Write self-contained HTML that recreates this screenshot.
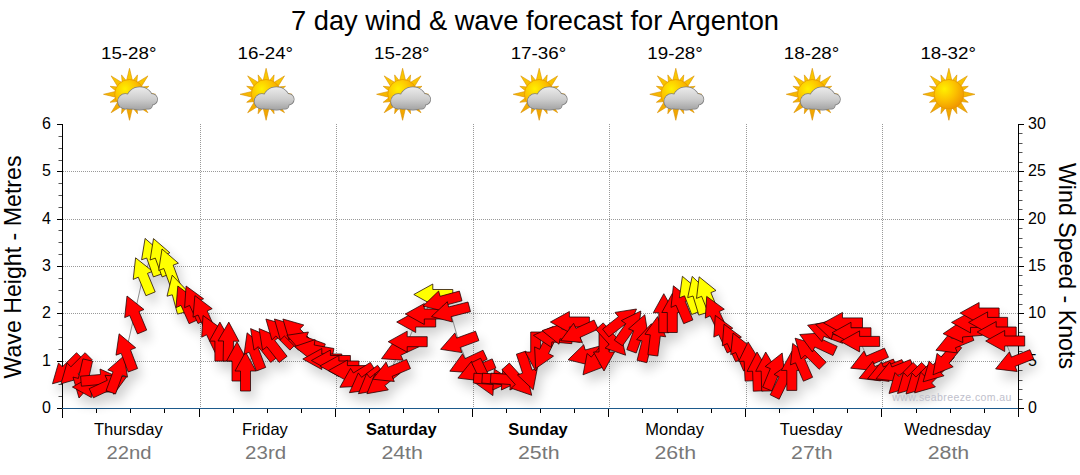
<!DOCTYPE html><html><head><meta charset="utf-8"><style>html,body{margin:0;padding:0;background:#fff;width:1080px;height:475px;overflow:hidden}svg{display:block}text{font-family:"Liberation Sans",Arial,sans-serif}</style></head><body>
<svg width="1080" height="475" viewBox="0 0 1080 475">
<defs>
<radialGradient id="sunG" cx="0.35" cy="0.32" r="0.75"><stop offset="0" stop-color="#fff000"/><stop offset="0.5" stop-color="#fcc200"/><stop offset="1" stop-color="#ef9200"/></radialGradient>
<linearGradient id="rayG" x1="0" y1="0" x2="0" y2="1"><stop offset="0" stop-color="#fdd000"/><stop offset="1" stop-color="#f0a000"/></linearGradient>
<linearGradient id="cloudG" gradientUnits="userSpaceOnUse" x1="0" y1="87" x2="0" y2="109"><stop offset="0" stop-color="#ebebeb"/><stop offset="0.55" stop-color="#cdcdcd"/><stop offset="1" stop-color="#a6a6a6"/></linearGradient>
<filter id="sh" x="-20%" y="-20%" width="150%" height="160%"><feGaussianBlur in="SourceAlpha" stdDeviation="6"/><feOffset dx="4" dy="8" result="b"/><feComponentTransfer><feFuncA type="linear" slope="0.22"/></feComponentTransfer><feMerge><feMergeNode/><feMergeNode in="SourceGraphic"/></feMerge></filter>
<filter id="shonly" x="-10%" y="-20%" width="120%" height="160%"><feGaussianBlur in="SourceAlpha" stdDeviation="6"/><feOffset dx="4" dy="8"/><feComponentTransfer><feFuncA type="linear" slope="0.19"/></feComponentTransfer></filter>
</defs>
<text x="291" y="29.6" font-size="28.5" textLength="488" lengthAdjust="spacingAndGlyphs" fill="#000">7 day wind &amp; wave forecast for Argenton</text>
<text x="101.0" y="59.2" font-size="16.8" textLength="55.5" lengthAdjust="spacingAndGlyphs" fill="#000">15-28°</text>
<path d="M129.5,68.3L133.1,83.3L125.9,83.3ZM137.5,74.9L136.5,85.3L130.9,83.0ZM147.9,75.9L139.8,89.1L134.7,84.0ZM148.9,86.3L140.8,92.9L138.5,87.3ZM155.5,94.3L140.5,97.9L140.5,90.7ZM148.9,102.3L138.5,101.3L140.8,95.7ZM147.9,112.7L134.7,104.6L139.8,99.5ZM137.5,113.7L130.9,105.6L136.5,103.3ZM129.5,120.3L125.9,105.3L133.1,105.3ZM121.5,113.7L122.5,103.3L128.1,105.6ZM111.1,112.7L119.2,99.5L124.3,104.6ZM110.1,102.3L118.2,95.7L120.5,101.3ZM103.5,94.3L118.5,90.7L118.5,97.9ZM110.1,86.3L120.5,87.3L118.2,92.9ZM111.1,75.9L124.3,84.0L119.2,89.1ZM121.5,74.9L128.1,83.0L122.5,85.3Z" fill="url(#rayG)" stroke="#d88e00" stroke-width="0.6"/><circle cx="129.5" cy="94.3" r="14.8" fill="url(#sunG)" stroke="#e39300" stroke-width="0.7"/><g fill="#7c7c7c" stroke="#7c7c7c" stroke-width="1.5"><circle cx="125.3" cy="101.4" r="7.3"/><ellipse cx="139.8" cy="98.5" rx="12.6" ry="11.2"/><circle cx="151.8" cy="99.3" r="5.4"/><rect x="125.5" y="98.3" width="26.5" height="10.5" rx="3.5"/></g><g fill="url(#cloudG)"><circle cx="125.3" cy="101.4" r="7.3"/><ellipse cx="139.8" cy="98.5" rx="12.6" ry="11.2"/><circle cx="151.8" cy="99.3" r="5.4"/><rect x="125.5" y="98.3" width="26.5" height="10.5" rx="3.5"/></g>
<text x="237.6" y="59.2" font-size="16.8" textLength="55.5" lengthAdjust="spacingAndGlyphs" fill="#000">16-24°</text>
<path d="M266.1,68.3L269.7,83.3L262.5,83.3ZM274.1,74.9L273.1,85.3L267.5,83.0ZM284.5,75.9L276.4,89.1L271.3,84.0ZM285.5,86.3L277.4,92.9L275.1,87.3ZM292.1,94.3L277.1,97.9L277.1,90.7ZM285.5,102.3L275.1,101.3L277.4,95.7ZM284.5,112.7L271.3,104.6L276.4,99.5ZM274.1,113.7L267.5,105.6L273.1,103.3ZM266.1,120.3L262.5,105.3L269.7,105.3ZM258.1,113.7L259.1,103.3L264.7,105.6ZM247.7,112.7L255.8,99.5L260.9,104.6ZM246.7,102.3L254.8,95.7L257.1,101.3ZM240.1,94.3L255.1,90.7L255.1,97.9ZM246.7,86.3L257.1,87.3L254.8,92.9ZM247.7,75.9L260.9,84.0L255.8,89.1ZM258.1,74.9L264.7,83.0L259.1,85.3Z" fill="url(#rayG)" stroke="#d88e00" stroke-width="0.6"/><circle cx="266.1" cy="94.3" r="14.8" fill="url(#sunG)" stroke="#e39300" stroke-width="0.7"/><g fill="#7c7c7c" stroke="#7c7c7c" stroke-width="1.5"><circle cx="261.9" cy="101.4" r="7.3"/><ellipse cx="276.4" cy="98.5" rx="12.6" ry="11.2"/><circle cx="288.4" cy="99.3" r="5.4"/><rect x="262.1" y="98.3" width="26.5" height="10.5" rx="3.5"/></g><g fill="url(#cloudG)"><circle cx="261.9" cy="101.4" r="7.3"/><ellipse cx="276.4" cy="98.5" rx="12.6" ry="11.2"/><circle cx="288.4" cy="99.3" r="5.4"/><rect x="262.1" y="98.3" width="26.5" height="10.5" rx="3.5"/></g>
<text x="374.1" y="59.2" font-size="16.8" textLength="55.5" lengthAdjust="spacingAndGlyphs" fill="#000">15-28°</text>
<path d="M402.6,68.3L406.2,83.3L399.0,83.3ZM410.6,74.9L409.6,85.3L404.0,83.0ZM421.0,75.9L412.9,89.1L407.8,84.0ZM422.0,86.3L413.9,92.9L411.6,87.3ZM428.6,94.3L413.6,97.9L413.6,90.7ZM422.0,102.3L411.6,101.3L413.9,95.7ZM421.0,112.7L407.8,104.6L412.9,99.5ZM410.6,113.7L404.0,105.6L409.6,103.3ZM402.6,120.3L399.0,105.3L406.2,105.3ZM394.6,113.7L395.6,103.3L401.2,105.6ZM384.2,112.7L392.3,99.5L397.4,104.6ZM383.2,102.3L391.3,95.7L393.6,101.3ZM376.6,94.3L391.6,90.7L391.6,97.9ZM383.2,86.3L393.6,87.3L391.3,92.9ZM384.2,75.9L397.4,84.0L392.3,89.1ZM394.6,74.9L401.2,83.0L395.6,85.3Z" fill="url(#rayG)" stroke="#d88e00" stroke-width="0.6"/><circle cx="402.6" cy="94.3" r="14.8" fill="url(#sunG)" stroke="#e39300" stroke-width="0.7"/><g fill="#7c7c7c" stroke="#7c7c7c" stroke-width="1.5"><circle cx="398.4" cy="101.4" r="7.3"/><ellipse cx="412.9" cy="98.5" rx="12.6" ry="11.2"/><circle cx="424.9" cy="99.3" r="5.4"/><rect x="398.6" y="98.3" width="26.5" height="10.5" rx="3.5"/></g><g fill="url(#cloudG)"><circle cx="398.4" cy="101.4" r="7.3"/><ellipse cx="412.9" cy="98.5" rx="12.6" ry="11.2"/><circle cx="424.9" cy="99.3" r="5.4"/><rect x="398.6" y="98.3" width="26.5" height="10.5" rx="3.5"/></g>
<text x="510.7" y="59.2" font-size="16.8" textLength="55.5" lengthAdjust="spacingAndGlyphs" fill="#000">17-36°</text>
<path d="M539.2,68.3L542.8,83.3L535.6,83.3ZM547.2,74.9L546.2,85.3L540.6,83.0ZM557.6,75.9L549.5,89.1L544.4,84.0ZM558.6,86.3L550.5,92.9L548.2,87.3ZM565.2,94.3L550.2,97.9L550.2,90.7ZM558.6,102.3L548.2,101.3L550.5,95.7ZM557.6,112.7L544.4,104.6L549.5,99.5ZM547.2,113.7L540.6,105.6L546.2,103.3ZM539.2,120.3L535.6,105.3L542.8,105.3ZM531.2,113.7L532.2,103.3L537.8,105.6ZM520.8,112.7L528.9,99.5L534.0,104.6ZM519.8,102.3L527.9,95.7L530.2,101.3ZM513.2,94.3L528.2,90.7L528.2,97.9ZM519.8,86.3L530.2,87.3L527.9,92.9ZM520.8,75.9L534.0,84.0L528.9,89.1ZM531.2,74.9L537.8,83.0L532.2,85.3Z" fill="url(#rayG)" stroke="#d88e00" stroke-width="0.6"/><circle cx="539.2" cy="94.3" r="14.8" fill="url(#sunG)" stroke="#e39300" stroke-width="0.7"/><g fill="#7c7c7c" stroke="#7c7c7c" stroke-width="1.5"><circle cx="535.0" cy="101.4" r="7.3"/><ellipse cx="549.5" cy="98.5" rx="12.6" ry="11.2"/><circle cx="561.5" cy="99.3" r="5.4"/><rect x="535.2" y="98.3" width="26.5" height="10.5" rx="3.5"/></g><g fill="url(#cloudG)"><circle cx="535.0" cy="101.4" r="7.3"/><ellipse cx="549.5" cy="98.5" rx="12.6" ry="11.2"/><circle cx="561.5" cy="99.3" r="5.4"/><rect x="535.2" y="98.3" width="26.5" height="10.5" rx="3.5"/></g>
<text x="647.3" y="59.2" font-size="16.8" textLength="55.5" lengthAdjust="spacingAndGlyphs" fill="#000">19-28°</text>
<path d="M675.8,68.3L679.4,83.3L672.2,83.3ZM683.8,74.9L682.8,85.3L677.2,83.0ZM694.2,75.9L686.1,89.1L681.0,84.0ZM695.2,86.3L687.1,92.9L684.8,87.3ZM701.8,94.3L686.8,97.9L686.8,90.7ZM695.2,102.3L684.8,101.3L687.1,95.7ZM694.2,112.7L681.0,104.6L686.1,99.5ZM683.8,113.7L677.2,105.6L682.8,103.3ZM675.8,120.3L672.2,105.3L679.4,105.3ZM667.8,113.7L668.8,103.3L674.4,105.6ZM657.4,112.7L665.5,99.5L670.6,104.6ZM656.4,102.3L664.5,95.7L666.8,101.3ZM649.8,94.3L664.8,90.7L664.8,97.9ZM656.4,86.3L666.8,87.3L664.5,92.9ZM657.4,75.9L670.6,84.0L665.5,89.1ZM667.8,74.9L674.4,83.0L668.8,85.3Z" fill="url(#rayG)" stroke="#d88e00" stroke-width="0.6"/><circle cx="675.8" cy="94.3" r="14.8" fill="url(#sunG)" stroke="#e39300" stroke-width="0.7"/><g fill="#7c7c7c" stroke="#7c7c7c" stroke-width="1.5"><circle cx="671.6" cy="101.4" r="7.3"/><ellipse cx="686.1" cy="98.5" rx="12.6" ry="11.2"/><circle cx="698.1" cy="99.3" r="5.4"/><rect x="671.8" y="98.3" width="26.5" height="10.5" rx="3.5"/></g><g fill="url(#cloudG)"><circle cx="671.6" cy="101.4" r="7.3"/><ellipse cx="686.1" cy="98.5" rx="12.6" ry="11.2"/><circle cx="698.1" cy="99.3" r="5.4"/><rect x="671.8" y="98.3" width="26.5" height="10.5" rx="3.5"/></g>
<text x="783.8" y="59.2" font-size="16.8" textLength="55.5" lengthAdjust="spacingAndGlyphs" fill="#000">18-28°</text>
<path d="M812.3,68.3L815.9,83.3L808.7,83.3ZM820.3,74.9L819.3,85.3L813.7,83.0ZM830.7,75.9L822.6,89.1L817.5,84.0ZM831.7,86.3L823.6,92.9L821.3,87.3ZM838.3,94.3L823.3,97.9L823.3,90.7ZM831.7,102.3L821.3,101.3L823.6,95.7ZM830.7,112.7L817.5,104.6L822.6,99.5ZM820.3,113.7L813.7,105.6L819.3,103.3ZM812.3,120.3L808.7,105.3L815.9,105.3ZM804.3,113.7L805.3,103.3L810.9,105.6ZM793.9,112.7L802.0,99.5L807.1,104.6ZM792.9,102.3L801.0,95.7L803.3,101.3ZM786.3,94.3L801.3,90.7L801.3,97.9ZM792.9,86.3L803.3,87.3L801.0,92.9ZM793.9,75.9L807.1,84.0L802.0,89.1ZM804.3,74.9L810.9,83.0L805.3,85.3Z" fill="url(#rayG)" stroke="#d88e00" stroke-width="0.6"/><circle cx="812.3" cy="94.3" r="14.8" fill="url(#sunG)" stroke="#e39300" stroke-width="0.7"/><g fill="#7c7c7c" stroke="#7c7c7c" stroke-width="1.5"><circle cx="808.1" cy="101.4" r="7.3"/><ellipse cx="822.6" cy="98.5" rx="12.6" ry="11.2"/><circle cx="834.6" cy="99.3" r="5.4"/><rect x="808.3" y="98.3" width="26.5" height="10.5" rx="3.5"/></g><g fill="url(#cloudG)"><circle cx="808.1" cy="101.4" r="7.3"/><ellipse cx="822.6" cy="98.5" rx="12.6" ry="11.2"/><circle cx="834.6" cy="99.3" r="5.4"/><rect x="808.3" y="98.3" width="26.5" height="10.5" rx="3.5"/></g>
<text x="920.4" y="59.2" font-size="16.8" textLength="55.5" lengthAdjust="spacingAndGlyphs" fill="#000">18-32°</text>
<path d="M948.9,68.3L952.5,83.3L945.3,83.3ZM956.9,74.9L955.9,85.3L950.3,83.0ZM967.3,75.9L959.2,89.1L954.1,84.0ZM968.3,86.3L960.2,92.9L957.9,87.3ZM974.9,94.3L959.9,97.9L959.9,90.7ZM968.3,102.3L957.9,101.3L960.2,95.7ZM967.3,112.7L954.1,104.6L959.2,99.5ZM956.9,113.7L950.3,105.6L955.9,103.3ZM948.9,120.3L945.3,105.3L952.5,105.3ZM940.9,113.7L941.9,103.3L947.5,105.6ZM930.5,112.7L938.6,99.5L943.7,104.6ZM929.5,102.3L937.6,95.7L939.9,101.3ZM922.9,94.3L937.9,90.7L937.9,97.9ZM929.5,86.3L939.9,87.3L937.6,92.9ZM930.5,75.9L943.7,84.0L938.6,89.1ZM940.9,74.9L947.5,83.0L941.9,85.3Z" fill="url(#rayG)" stroke="#d88e00" stroke-width="0.6"/><circle cx="948.9" cy="94.3" r="14.8" fill="url(#sunG)" stroke="#e39300" stroke-width="0.7"/>
<path d="M63,361.5H1018M63,313.5H1018M63,266.5H1018M63,219.5H1018M63,171.5H1018M200.5,124V408M336.5,124V408M473.5,124V408M609.5,124V408M746.5,124V408M882.5,124V408" stroke="#999" stroke-width="1" stroke-dasharray="1 1" fill="none"/>
<path d="M62.5,124V418M1018.5,124V408.5M57.0,408.5H62.5M57.0,361.5H62.5M57.0,313.5H62.5M57.0,266.5H62.5M57.0,219.5H62.5M57.0,171.5H62.5M57.0,124.5H62.5M1018.5,408.5H1024.0M1018.5,361.5H1024.0M1018.5,313.5H1024.0M1018.5,266.5H1024.0M1018.5,219.5H1024.0M1018.5,171.5H1024.0M1018.5,124.5H1024.0M62.5,408V417M96.5,408V413M130.5,408V413M164.5,408V413M199.5,408V417M233.5,408V413M267.5,408V413M301.5,408V413M335.5,408V417M369.5,408V413M403.5,408V413M438.5,408V413M472.5,408V417M506.5,408V413M540.5,408V413M574.5,408V413M608.5,408V417M642.5,408V413M677.5,408V413M711.5,408V413M745.5,408V417M779.5,408V413M813.5,408V413M847.5,408V413M881.5,408V417M916.5,408V413M950.5,408V413M984.5,408V413M1018.5,408V417" stroke="#000" stroke-width="1" fill="none"/>
<path d="M58.5,396.5H62M58.5,384.5H62M58.5,372.5H62M58.5,349.5H62M58.5,337.5H62M58.5,325.5H62M58.5,302.5H62M58.5,290.5H62M58.5,278.5H62M58.5,254.5H62M58.5,242.5H62M58.5,230.5H62M58.5,207.5H62M58.5,195.5H62M58.5,183.5H62M58.5,160.5H62M58.5,148.5H62M58.5,136.5H62M1019,399.5H1022.5M1019,389.5H1022.5M1019,380.5H1022.5M1019,370.5H1022.5M1019,351.5H1022.5M1019,342.5H1022.5M1019,332.5H1022.5M1019,323.5H1022.5M1019,304.5H1022.5M1019,294.5H1022.5M1019,285.5H1022.5M1019,275.5H1022.5M1019,257.5H1022.5M1019,247.5H1022.5M1019,238.5H1022.5M1019,228.5H1022.5M1019,209.5H1022.5M1019,200.5H1022.5M1019,190.5H1022.5M1019,181.5H1022.5M1019,162.5H1022.5M1019,152.5H1022.5M1019,143.5H1022.5M1019,133.5H1022.5" stroke="#555" stroke-width="1" fill="none"/>
<path d="M62,408.5H1018" stroke="#1d5a8c" stroke-width="1"/>
<text x="51" y="413.0" font-size="16" text-anchor="end" fill="#000">0</text>
<text x="51" y="365.7" font-size="16" text-anchor="end" fill="#000">1</text>
<text x="51" y="318.3" font-size="16" text-anchor="end" fill="#000">2</text>
<text x="51" y="271.0" font-size="16" text-anchor="end" fill="#000">3</text>
<text x="51" y="223.7" font-size="16" text-anchor="end" fill="#000">4</text>
<text x="51" y="176.3" font-size="16" text-anchor="end" fill="#000">5</text>
<text x="51" y="129.0" font-size="16" text-anchor="end" fill="#000">6</text>
<text x="1028" y="413.0" font-size="16" fill="#000">0</text>
<text x="1028" y="365.7" font-size="16" fill="#000">5</text>
<text x="1028" y="318.3" font-size="16" fill="#000">10</text>
<text x="1028" y="271.0" font-size="16" fill="#000">15</text>
<text x="1028" y="223.7" font-size="16" fill="#000">20</text>
<text x="1028" y="176.3" font-size="16" fill="#000">25</text>
<text x="1028" y="129.0" font-size="16" fill="#000">30</text>
<text transform="translate(20.5,378.5) rotate(-90)" font-size="24" textLength="223" lengthAdjust="spacingAndGlyphs" fill="#000">Wave Height - Metres</text>
<text transform="translate(1059,163) rotate(90)" font-size="24" textLength="206" lengthAdjust="spacingAndGlyphs" fill="#000">Wind Speed - Knots</text>
<g filter="url(#shonly)"><polygon points="52.5,383.8 73.3,377.8 69.5,373.9 83.6,359.7 76.5,352.7 62.4,366.8 58.5,362.9" fill="#ff0000" stroke="#1a0000" stroke-width="0.75" stroke-linejoin="miter"/><polygon points="61.0,383.8 81.9,377.8 78.0,373.9 92.1,359.7 85.1,352.7 70.9,366.8 67.0,362.9" fill="#ff0000" stroke="#1a0000" stroke-width="0.75" stroke-linejoin="miter"/><polygon points="79.0,398.0 93.5,381.8 88.1,380.6 92.6,361.1 82.9,358.9 78.4,378.4 73.0,377.1" fill="#ff0000" stroke="#1a0000" stroke-width="0.75" stroke-linejoin="miter"/><polygon points="72.4,387.0 91.4,397.5 91.4,392.0 111.4,392.0 111.4,382.0 91.4,382.0 91.4,376.5" fill="#ff0000" stroke="#1a0000" stroke-width="0.75" stroke-linejoin="miter"/><polygon points="119.8,377.8 100.0,369.0 100.5,374.5 80.6,376.2 81.4,386.2 101.3,384.4 101.8,389.9" fill="#ff0000" stroke="#1a0000" stroke-width="0.75" stroke-linejoin="miter"/><polygon points="126.6,376.8 105.0,375.3 107.3,380.3 89.2,388.7 93.4,397.8 111.5,389.3 113.8,394.3" fill="#ff0000" stroke="#1a0000" stroke-width="0.75" stroke-linejoin="miter"/><polygon points="124.2,355.7 107.8,369.9 113.0,371.8 106.1,390.6 115.5,394.0 122.4,375.2 127.5,377.1" fill="#ff0000" stroke="#1a0000" stroke-width="0.75" stroke-linejoin="miter"/><polygon points="119.1,333.8 116.0,355.2 121.2,353.3 128.2,372.0 137.6,368.5 130.5,349.8 135.7,347.8" fill="#ff0000" stroke="#1a0000" stroke-width="0.75" stroke-linejoin="miter"/><polygon points="127.0,296.0 124.7,317.6 129.7,315.5 137.5,333.9 146.7,330.1 139.0,311.6 144.0,309.5" fill="#ff0000" stroke="#1a0000" stroke-width="0.75" stroke-linejoin="miter"/><polygon points="135.6,257.8 133.2,279.4 138.3,277.2 145.9,295.7 155.2,291.9 147.5,273.4 152.6,271.3" fill="#ffff00" stroke="#1a0000" stroke-width="0.75" stroke-linejoin="miter"/><polygon points="145.1,238.4 141.6,259.8 146.7,258.0 153.4,276.9 162.9,273.5 156.2,254.7 161.4,252.8" fill="#ffff00" stroke="#1a0000" stroke-width="0.75" stroke-linejoin="miter"/><polygon points="153.5,238.6 150.1,260.0 155.3,258.1 162.1,276.9 171.5,273.5 164.7,254.7 169.9,252.8" fill="#ffff00" stroke="#1a0000" stroke-width="0.75" stroke-linejoin="miter"/><polygon points="162.0,249.0 158.7,270.4 163.8,268.5 170.7,287.3 180.1,283.9 173.2,265.1 178.4,263.2" fill="#ffff00" stroke="#1a0000" stroke-width="0.75" stroke-linejoin="miter"/><polygon points="172.2,275.2 167.0,296.2 172.3,294.8 177.5,314.1 187.1,311.5 181.9,292.2 187.2,290.8" fill="#ffff00" stroke="#1a0000" stroke-width="0.75" stroke-linejoin="miter"/><polygon points="177.8,286.0 176.0,307.6 181.0,305.4 189.1,323.7 198.3,319.6 190.1,301.3 195.2,299.1" fill="#ff0000" stroke="#1a0000" stroke-width="0.75" stroke-linejoin="miter"/><polygon points="186.1,286.0 184.6,307.7 189.6,305.4 198.0,323.5 207.1,319.3 198.6,301.1 203.6,298.8" fill="#ff0000" stroke="#1a0000" stroke-width="0.75" stroke-linejoin="miter"/><polygon points="194.9,295.6 193.0,317.2 198.1,315.0 206.2,333.3 215.3,329.2 207.2,310.9 212.2,308.7" fill="#ff0000" stroke="#1a0000" stroke-width="0.75" stroke-linejoin="miter"/><polygon points="203.0,315.5 201.7,337.2 206.6,334.8 215.3,352.9 224.3,348.5 215.7,330.5 220.6,328.1" fill="#ff0000" stroke="#1a0000" stroke-width="0.75" stroke-linejoin="miter"/><polygon points="219.9,322.1 209.4,341.1 214.9,341.1 214.9,361.1 224.9,361.1 224.9,341.1 230.4,341.1" fill="#ff0000" stroke="#1a0000" stroke-width="0.75" stroke-linejoin="miter"/><polygon points="228.8,322.1 218.0,340.9 223.5,341.0 223.1,361.0 233.1,361.2 233.5,341.2 239.0,341.3" fill="#ff0000" stroke="#1a0000" stroke-width="0.75" stroke-linejoin="miter"/><polygon points="237.0,342.0 226.5,361.0 232.0,361.0 232.0,381.0 242.0,381.0 242.0,361.0 247.5,361.0" fill="#ff0000" stroke="#1a0000" stroke-width="0.75" stroke-linejoin="miter"/><polygon points="245.5,352.0 235.0,371.0 240.5,371.0 240.5,391.0 250.5,391.0 250.5,371.0 256.0,371.0" fill="#ff0000" stroke="#1a0000" stroke-width="0.75" stroke-linejoin="miter"/><polygon points="247.1,332.8 244.1,354.3 249.2,352.3 256.4,371.0 265.7,367.4 258.5,348.7 263.7,346.8" fill="#ff0000" stroke="#1a0000" stroke-width="0.75" stroke-linejoin="miter"/><polygon points="250.6,328.6 254.0,350.1 258.3,346.7 270.7,362.4 278.5,356.3 266.2,340.5 270.6,337.1" fill="#ff0000" stroke="#1a0000" stroke-width="0.75" stroke-linejoin="miter"/><polygon points="259.1,328.6 262.5,350.1 266.9,346.7 279.2,362.4 287.1,356.3 274.8,340.5 279.1,337.1" fill="#ff0000" stroke="#1a0000" stroke-width="0.75" stroke-linejoin="miter"/><polygon points="265.9,319.0 271.9,339.9 275.8,336.0 289.9,350.1 297.0,343.1 282.8,328.9 286.7,325.0" fill="#ff0000" stroke="#1a0000" stroke-width="0.75" stroke-linejoin="miter"/><polygon points="274.4,319.0 280.4,339.9 284.3,336.0 298.5,350.1 305.5,343.1 291.4,328.9 295.3,325.0" fill="#ff0000" stroke="#1a0000" stroke-width="0.75" stroke-linejoin="miter"/><polygon points="282.9,319.0 289.0,339.9 292.8,336.0 307.0,350.1 314.1,343.1 299.9,328.9 303.8,325.0" fill="#ff0000" stroke="#1a0000" stroke-width="0.75" stroke-linejoin="miter"/><polygon points="286.9,335.3 301.2,351.7 303.1,346.5 321.9,353.4 325.3,344.0 306.5,337.1 308.4,332.0" fill="#ff0000" stroke="#1a0000" stroke-width="0.75" stroke-linejoin="miter"/><polygon points="294.6,346.6 311.5,360.2 312.4,354.8 332.1,358.3 333.9,348.5 314.2,345.0 315.1,339.6" fill="#ff0000" stroke="#1a0000" stroke-width="0.75" stroke-linejoin="miter"/><polygon points="302.8,359.0 321.8,369.5 321.8,364.0 341.8,364.0 341.8,354.0 321.8,354.0 321.8,348.5" fill="#ff0000" stroke="#1a0000" stroke-width="0.75" stroke-linejoin="miter"/><polygon points="311.4,360.5 330.4,371.0 330.4,365.5 350.4,365.5 350.4,355.5 330.4,355.5 330.4,350.0" fill="#ff0000" stroke="#1a0000" stroke-width="0.75" stroke-linejoin="miter"/><polygon points="319.9,366.0 338.9,376.5 338.9,371.0 358.9,371.0 358.9,361.0 338.9,361.0 338.9,355.5" fill="#ff0000" stroke="#1a0000" stroke-width="0.75" stroke-linejoin="miter"/><polygon points="328.4,370.6 347.4,381.1 347.4,375.6 367.4,375.6 367.4,365.6 347.4,365.6 347.4,360.1" fill="#ff0000" stroke="#1a0000" stroke-width="0.75" stroke-linejoin="miter"/><polygon points="339.9,387.3 361.6,386.2 358.7,381.5 375.7,370.9 370.4,362.4 353.4,373.0 350.5,368.4" fill="#ff0000" stroke="#1a0000" stroke-width="0.75" stroke-linejoin="miter"/><polygon points="349.4,392.7 370.9,389.7 367.6,385.3 383.6,373.3 377.6,365.3 361.6,377.3 358.3,372.9" fill="#ff0000" stroke="#1a0000" stroke-width="0.75" stroke-linejoin="miter"/><polygon points="358.4,393.7 379.8,389.9 376.3,385.6 391.9,373.0 385.6,365.2 370.0,377.8 366.6,373.6" fill="#ff0000" stroke="#1a0000" stroke-width="0.75" stroke-linejoin="miter"/><polygon points="366.9,393.7 388.3,389.9 384.8,385.6 400.4,373.0 394.1,365.2 378.5,377.8 375.1,373.6" fill="#ff0000" stroke="#1a0000" stroke-width="0.75" stroke-linejoin="miter"/><polygon points="372.7,379.2 394.3,381.5 392.1,376.4 410.5,368.6 406.6,359.4 388.2,367.2 386.1,362.1" fill="#ff0000" stroke="#1a0000" stroke-width="0.75" stroke-linejoin="miter"/><polygon points="381.5,358.7 403.1,360.2 400.8,355.2 418.9,346.8 414.7,337.7 396.6,346.2 394.3,341.2" fill="#ff0000" stroke="#1a0000" stroke-width="0.75" stroke-linejoin="miter"/><polygon points="388.2,341.7 407.2,352.2 407.2,346.7 427.2,346.7 427.2,336.7 407.2,336.7 407.2,331.2" fill="#ff0000" stroke="#1a0000" stroke-width="0.75" stroke-linejoin="miter"/><polygon points="396.7,322.0 415.7,332.5 415.7,327.0 435.7,327.0 435.7,317.0 415.7,317.0 415.7,311.5" fill="#ff0000" stroke="#1a0000" stroke-width="0.75" stroke-linejoin="miter"/><polygon points="405.3,314.0 424.3,324.5 424.3,319.0 444.3,319.0 444.3,309.0 424.3,309.0 424.3,303.5" fill="#ff0000" stroke="#1a0000" stroke-width="0.75" stroke-linejoin="miter"/><polygon points="413.8,294.5 432.8,305.0 432.8,299.5 452.8,299.5 452.8,289.5 432.8,289.5 432.8,284.0" fill="#ffff00" stroke="#1a0000" stroke-width="0.75" stroke-linejoin="miter"/><polygon points="423.0,306.1 444.1,311.3 442.6,306.0 462.0,300.8 459.4,291.1 440.1,296.3 438.6,291.0" fill="#ff0000" stroke="#1a0000" stroke-width="0.75" stroke-linejoin="miter"/><polygon points="431.5,316.6 452.5,322.0 451.1,316.7 470.5,311.7 468.0,302.0 448.6,307.0 447.3,301.7" fill="#ff0000" stroke="#1a0000" stroke-width="0.75" stroke-linejoin="miter"/><polygon points="440.6,349.3 462.0,352.6 460.2,347.5 478.9,340.6 475.5,331.2 456.7,338.1 454.9,332.9" fill="#ff0000" stroke="#1a0000" stroke-width="0.75" stroke-linejoin="miter"/><polygon points="449.8,371.2 471.4,372.7 469.1,367.7 487.2,359.3 483.0,350.2 464.9,358.7 462.6,353.7" fill="#ff0000" stroke="#1a0000" stroke-width="0.75" stroke-linejoin="miter"/><polygon points="457.9,378.1 479.4,380.7 477.4,375.6 495.9,368.1 492.2,358.9 473.6,366.3 471.6,361.2" fill="#ff0000" stroke="#1a0000" stroke-width="0.75" stroke-linejoin="miter"/><polygon points="492.9,395.6 494.2,373.9 489.2,376.3 480.6,358.2 471.6,362.6 480.2,380.6 475.3,383.0" fill="#ff0000" stroke="#1a0000" stroke-width="0.75" stroke-linejoin="miter"/><polygon points="512.5,380.9 494.3,369.1 493.9,374.5 474.0,373.2 473.3,383.1 493.2,384.5 492.8,390.0" fill="#ff0000" stroke="#1a0000" stroke-width="0.75" stroke-linejoin="miter"/><polygon points="521.0,380.9 502.8,369.1 502.4,374.5 482.5,373.2 481.8,383.1 501.7,384.5 501.4,390.0" fill="#ff0000" stroke="#1a0000" stroke-width="0.75" stroke-linejoin="miter"/><polygon points="529.6,380.9 511.4,369.1 511.0,374.5 491.0,373.2 490.3,383.1 510.3,384.5 509.9,390.0" fill="#ff0000" stroke="#1a0000" stroke-width="0.75" stroke-linejoin="miter"/><polygon points="531.7,395.3 526.8,374.1 522.7,377.8 509.3,363.0 501.9,369.7 515.3,384.5 511.2,388.2" fill="#ff0000" stroke="#1a0000" stroke-width="0.75" stroke-linejoin="miter"/><polygon points="533.2,389.8 537.3,368.4 532.1,370.1 525.9,351.1 516.4,354.2 522.6,373.2 517.4,374.9" fill="#ff0000" stroke="#1a0000" stroke-width="0.75" stroke-linejoin="miter"/><polygon points="535.7,371.0 546.2,352.0 540.7,352.0 540.7,332.0 530.7,332.0 530.7,352.0 525.2,352.0" fill="#ff0000" stroke="#1a0000" stroke-width="0.75" stroke-linejoin="miter"/><polygon points="535.7,368.5 553.5,356.1 548.5,353.6 557.3,335.7 548.3,331.3 539.6,349.3 534.6,346.9" fill="#ff0000" stroke="#1a0000" stroke-width="0.75" stroke-linejoin="miter"/><polygon points="533.4,335.3 551.4,347.4 551.9,341.9 571.8,343.7 572.7,333.7 552.7,332.0 553.2,326.5" fill="#ff0000" stroke="#1a0000" stroke-width="0.75" stroke-linejoin="miter"/><polygon points="542.1,330.6 559.0,344.2 560.0,338.8 579.7,342.3 581.4,332.5 561.7,329.0 562.7,323.6" fill="#ff0000" stroke="#1a0000" stroke-width="0.75" stroke-linejoin="miter"/><polygon points="550.4,322.0 569.4,332.5 569.4,327.0 589.4,327.0 589.4,317.0 569.4,317.0 569.4,311.5" fill="#ff0000" stroke="#1a0000" stroke-width="0.75" stroke-linejoin="miter"/><polygon points="560.7,340.7 582.3,342.4 580.0,337.4 598.2,329.1 594.1,320.0 575.9,328.3 573.6,323.3" fill="#ff0000" stroke="#1a0000" stroke-width="0.75" stroke-linejoin="miter"/><polygon points="568.1,359.8 589.2,365.0 587.8,359.7 607.1,354.5 604.5,344.8 585.2,350.0 583.7,344.7" fill="#ff0000" stroke="#1a0000" stroke-width="0.75" stroke-linejoin="miter"/><polygon points="583.0,374.8 603.2,367.0 599.0,363.5 611.8,348.2 604.2,341.8 591.3,357.1 587.1,353.5" fill="#ff0000" stroke="#1a0000" stroke-width="0.75" stroke-linejoin="miter"/><polygon points="604.0,371.0 614.5,352.0 609.0,352.0 609.0,332.0 599.0,332.0 599.0,352.0 593.5,352.0" fill="#ff0000" stroke="#1a0000" stroke-width="0.75" stroke-linejoin="miter"/><polygon points="625.6,355.2 620.7,334.0 616.6,337.7 603.2,322.9 595.8,329.6 609.2,344.4 605.1,348.1" fill="#ff0000" stroke="#1a0000" stroke-width="0.75" stroke-linejoin="miter"/><polygon points="636.5,309.0 615.0,312.4 618.4,316.7 602.6,329.1 608.8,336.9 624.6,324.6 628.0,329.0" fill="#ff0000" stroke="#1a0000" stroke-width="0.75" stroke-linejoin="miter"/><polygon points="640.8,311.0 621.3,320.6 625.8,323.7 614.3,340.1 622.5,345.8 634.0,329.5 638.5,332.6" fill="#ff0000" stroke="#1a0000" stroke-width="0.75" stroke-linejoin="miter"/><polygon points="644.8,314.7 628.5,328.9 633.6,330.8 626.8,349.6 636.2,353.0 643.0,334.2 648.2,336.1" fill="#ff0000" stroke="#1a0000" stroke-width="0.75" stroke-linejoin="miter"/><polygon points="651.4,323.7 636.6,339.6 642.0,340.9 637.1,360.3 646.8,362.7 651.7,343.3 657.0,344.7" fill="#ff0000" stroke="#1a0000" stroke-width="0.75" stroke-linejoin="miter"/><polygon points="657.6,316.6 644.9,334.2 650.3,334.9 647.9,354.7 657.8,356.0 660.3,336.1 665.7,336.8" fill="#ff0000" stroke="#1a0000" stroke-width="0.75" stroke-linejoin="miter"/><polygon points="663.8,293.7 653.3,312.7 658.8,312.7 658.8,332.7 668.8,332.7 668.8,312.7 674.3,312.7" fill="#ff0000" stroke="#1a0000" stroke-width="0.75" stroke-linejoin="miter"/><polygon points="672.3,293.5 661.8,312.5 667.3,312.5 667.3,332.5 677.3,332.5 677.3,312.5 682.8,312.5" fill="#ff0000" stroke="#1a0000" stroke-width="0.75" stroke-linejoin="miter"/><polygon points="673.4,285.8 671.0,307.4 676.0,305.2 683.7,323.7 692.9,319.9 685.3,301.4 690.4,299.3" fill="#ff0000" stroke="#1a0000" stroke-width="0.75" stroke-linejoin="miter"/><polygon points="682.4,276.3 679.4,297.8 684.5,295.8 691.7,314.5 701.0,310.9 693.9,292.2 699.0,290.3" fill="#ffff00" stroke="#1a0000" stroke-width="0.75" stroke-linejoin="miter"/><polygon points="692.2,276.4 687.7,297.6 693.0,296.0 698.8,315.1 708.4,312.2 702.5,293.1 707.8,291.4" fill="#ffff00" stroke="#1a0000" stroke-width="0.75" stroke-linejoin="miter"/><polygon points="699.1,276.8 696.5,298.4 701.6,296.3 709.1,314.9 718.4,311.1 710.9,292.6 716.0,290.5" fill="#ffff00" stroke="#1a0000" stroke-width="0.75" stroke-linejoin="miter"/><polygon points="706.7,296.4 705.3,318.1 710.2,315.8 718.7,333.9 727.8,329.7 719.3,311.5 724.3,309.2" fill="#ff0000" stroke="#1a0000" stroke-width="0.75" stroke-linejoin="miter"/><polygon points="715.3,315.4 713.8,337.1 718.8,334.8 727.2,352.9 736.3,348.7 727.8,330.5 732.8,328.2" fill="#ff0000" stroke="#1a0000" stroke-width="0.75" stroke-linejoin="miter"/><polygon points="724.0,324.2 722.3,345.8 727.3,343.5 735.6,361.7 744.7,357.6 736.4,339.4 741.4,337.1" fill="#ff0000" stroke="#1a0000" stroke-width="0.75" stroke-linejoin="miter"/><polygon points="733.0,333.1 730.7,354.6 735.8,352.5 743.6,370.9 752.8,367.0 745.0,348.6 750.1,346.4" fill="#ff0000" stroke="#1a0000" stroke-width="0.75" stroke-linejoin="miter"/><polygon points="748.1,341.9 738.6,361.5 744.1,361.2 745.1,381.1 755.1,380.6 754.1,360.6 759.6,360.4" fill="#ff0000" stroke="#1a0000" stroke-width="0.75" stroke-linejoin="miter"/><polygon points="757.0,352.0 747.1,371.4 752.6,371.2 753.3,391.2 763.3,390.8 762.6,370.8 768.1,370.6" fill="#ff0000" stroke="#1a0000" stroke-width="0.75" stroke-linejoin="miter"/><polygon points="765.7,352.0 755.7,371.3 761.2,371.1 761.7,391.1 771.7,390.9 771.2,370.9 776.7,370.7" fill="#ff0000" stroke="#1a0000" stroke-width="0.75" stroke-linejoin="miter"/><polygon points="782.2,353.0 765.2,366.5 770.3,368.6 762.7,387.1 771.9,390.9 779.5,372.4 784.6,374.5" fill="#ff0000" stroke="#1a0000" stroke-width="0.75" stroke-linejoin="miter"/><polygon points="791.8,362.0 774.1,374.4 779.0,376.9 770.2,394.8 779.2,399.2 788.0,381.2 792.9,383.6" fill="#ff0000" stroke="#1a0000" stroke-width="0.75" stroke-linejoin="miter"/><polygon points="791.8,351.4 781.3,370.4 786.8,370.4 786.8,390.4 796.8,390.4 796.8,370.4 802.3,370.4" fill="#ff0000" stroke="#1a0000" stroke-width="0.75" stroke-linejoin="miter"/><polygon points="792.7,343.4 790.5,364.9 795.5,362.8 803.4,381.2 812.6,377.3 804.7,358.9 809.8,356.7" fill="#ff0000" stroke="#1a0000" stroke-width="0.75" stroke-linejoin="miter"/><polygon points="795.1,338.2 801.1,359.1 805.0,355.2 819.1,369.3 826.2,362.3 812.1,348.1 815.9,344.2" fill="#ff0000" stroke="#1a0000" stroke-width="0.75" stroke-linejoin="miter"/><polygon points="799.7,334.5 812.5,352.0 814.8,347.0 833.0,355.5 837.2,346.4 819.1,338.0 821.4,333.0" fill="#ff0000" stroke="#1a0000" stroke-width="0.75" stroke-linejoin="miter"/><polygon points="807.6,325.2 821.9,341.6 823.8,336.4 842.6,343.3 846.0,333.9 827.2,327.0 829.1,321.9" fill="#ff0000" stroke="#1a0000" stroke-width="0.75" stroke-linejoin="miter"/><polygon points="815.6,324.4 831.3,339.4 832.7,334.1 852.0,339.3 854.6,329.6 835.3,324.4 836.7,319.1" fill="#ff0000" stroke="#1a0000" stroke-width="0.75" stroke-linejoin="miter"/><polygon points="823.5,322.9 842.5,333.4 842.5,327.9 862.5,327.9 862.5,317.9 842.5,317.9 842.5,312.4" fill="#ff0000" stroke="#1a0000" stroke-width="0.75" stroke-linejoin="miter"/><polygon points="832.0,332.8 851.0,343.3 851.0,337.8 871.0,337.8 871.0,327.8 851.0,327.8 851.0,322.3" fill="#ff0000" stroke="#1a0000" stroke-width="0.75" stroke-linejoin="miter"/><polygon points="840.6,341.4 859.6,351.9 859.6,346.4 879.6,346.4 879.6,336.4 859.6,336.4 859.6,330.9" fill="#ff0000" stroke="#1a0000" stroke-width="0.75" stroke-linejoin="miter"/><polygon points="850.7,368.2 872.3,370.3 870.2,365.3 888.5,357.3 884.5,348.2 866.2,356.1 864.0,351.1" fill="#ff0000" stroke="#1a0000" stroke-width="0.75" stroke-linejoin="miter"/><polygon points="859.1,378.3 880.6,380.9 878.6,375.8 897.1,368.3 893.4,359.1 874.8,366.5 872.8,361.4" fill="#ff0000" stroke="#1a0000" stroke-width="0.75" stroke-linejoin="miter"/><polygon points="867.6,378.8 889.2,381.4 887.1,376.3 905.7,368.8 901.9,359.6 883.4,367.0 881.3,361.9" fill="#ff0000" stroke="#1a0000" stroke-width="0.75" stroke-linejoin="miter"/><polygon points="876.1,378.8 897.7,381.4 895.6,376.3 914.2,368.8 910.4,359.6 891.9,367.0 889.8,361.9" fill="#ff0000" stroke="#1a0000" stroke-width="0.75" stroke-linejoin="miter"/><polygon points="889.0,393.5 909.8,387.5 906.0,383.6 920.1,369.4 913.0,362.4 898.9,376.5 895.0,372.6" fill="#ff0000" stroke="#1a0000" stroke-width="0.75" stroke-linejoin="miter"/><polygon points="897.5,393.5 918.4,387.5 914.5,383.6 928.6,369.4 921.6,362.4 907.4,376.5 903.5,372.6" fill="#ff0000" stroke="#1a0000" stroke-width="0.75" stroke-linejoin="miter"/><polygon points="906.0,394.0 926.9,388.0 923.0,384.1 937.2,369.9 930.1,362.9 915.9,377.0 912.1,373.1" fill="#ff0000" stroke="#1a0000" stroke-width="0.75" stroke-linejoin="miter"/><polygon points="914.6,392.9 935.4,386.9 931.6,383.0 945.7,368.8 938.6,361.8 924.5,375.9 920.6,372.0" fill="#ff0000" stroke="#1a0000" stroke-width="0.75" stroke-linejoin="miter"/><polygon points="923.1,381.8 944.0,375.8 940.1,371.9 954.2,357.7 947.2,350.7 933.0,364.8 929.1,360.9" fill="#ff0000" stroke="#1a0000" stroke-width="0.75" stroke-linejoin="miter"/><polygon points="933.0,374.8 953.2,366.8 949.0,363.3 961.7,347.8 954.0,341.5 941.3,356.9 937.0,353.4" fill="#ff0000" stroke="#1a0000" stroke-width="0.75" stroke-linejoin="miter"/><polygon points="935.9,350.3 957.4,352.9 955.4,347.8 973.9,340.3 970.2,331.1 951.6,338.5 949.6,333.4" fill="#ff0000" stroke="#1a0000" stroke-width="0.75" stroke-linejoin="miter"/><polygon points="943.1,333.7 962.9,342.5 962.5,337.0 982.4,335.3 981.5,325.3 961.6,327.1 961.1,321.6" fill="#ff0000" stroke="#1a0000" stroke-width="0.75" stroke-linejoin="miter"/><polygon points="951.5,322.4 970.5,332.9 970.5,327.4 990.5,327.4 990.5,317.4 970.5,317.4 970.5,311.9" fill="#ff0000" stroke="#1a0000" stroke-width="0.75" stroke-linejoin="miter"/><polygon points="960.1,313.0 979.1,323.5 979.1,318.0 999.1,318.0 999.1,308.0 979.1,308.0 979.1,302.5" fill="#ff0000" stroke="#1a0000" stroke-width="0.75" stroke-linejoin="miter"/><polygon points="968.6,322.4 987.6,332.9 987.6,327.4 1007.6,327.4 1007.6,317.4 987.6,317.4 987.6,311.9" fill="#ff0000" stroke="#1a0000" stroke-width="0.75" stroke-linejoin="miter"/><polygon points="977.2,332.0 996.2,342.5 996.2,337.0 1016.2,337.0 1016.2,327.0 996.2,327.0 996.2,321.5" fill="#ff0000" stroke="#1a0000" stroke-width="0.75" stroke-linejoin="miter"/><polygon points="985.7,341.0 1004.7,351.5 1004.7,346.0 1024.7,346.0 1024.7,336.0 1004.7,336.0 1004.7,330.5" fill="#ff0000" stroke="#1a0000" stroke-width="0.75" stroke-linejoin="miter"/><polygon points="995.6,368.9 1017.2,371.5 1015.1,366.4 1033.7,358.9 1029.9,349.7 1011.4,357.1 1009.3,352.0" fill="#ff0000" stroke="#1a0000" stroke-width="0.75" stroke-linejoin="miter"/></g><polyline points="66.3,370.0 74.8,370.0 83.3,379.0 91.9,387.0 100.4,379.5 108.9,385.0 117.5,374.0 126.0,352.0 134.6,314.0 143.1,275.8 151.6,256.8 160.2,256.9 168.7,267.3 177.2,294.0 185.8,303.8 194.3,303.7 202.8,313.4 211.4,333.1 219.9,341.6 228.4,341.6 237.0,361.5 245.5,371.5 254.1,351.0 262.6,344.0 271.1,344.0 279.7,332.8 288.2,332.8 296.7,332.8 305.3,342.0 313.8,350.0 322.3,359.0 330.9,360.5 339.4,366.0 347.9,370.6 356.5,377.0 365.0,381.0 373.6,381.4 382.1,381.4 390.6,371.6 399.2,350.5 407.7,341.7 416.2,322.0 424.8,314.0 433.3,294.5 441.8,301.0 450.4,311.7 458.9,342.6 467.4,363.0 476.0,370.8 484.5,378.0 493.1,379.5 501.6,379.5 510.1,379.5 518.7,380.8 527.2,371.2 535.7,351.5 544.3,351.0 552.8,337.0 561.3,334.0 569.9,322.0 578.4,332.6 586.9,354.7 595.5,359.9 604.0,351.5 612.6,340.7 621.1,321.0 629.6,327.0 638.2,333.0 646.7,342.6 655.2,336.0 663.8,313.2 672.3,313.0 680.8,303.8 689.4,294.5 697.9,295.0 706.4,294.9 715.0,314.1 723.5,333.1 732.1,341.9 740.6,351.0 749.1,361.4 757.7,371.5 766.2,371.5 774.7,371.0 783.3,379.5 791.8,370.9 800.3,361.3 808.9,352.0 817.4,342.7 825.9,331.9 834.5,329.4 843.0,322.9 851.5,332.8 860.1,341.4 868.6,360.5 877.2,371.0 885.7,371.5 894.2,371.5 902.8,379.7 911.3,379.7 919.8,380.2 928.4,379.1 936.9,368.0 945.4,359.7 954.0,343.0 962.5,332.0 971.0,322.4 979.6,313.0 988.1,322.4 996.7,332.0 1005.2,341.0 1013.7,361.6" fill="none" stroke="#8c8c8c" stroke-width="1"/><g><polygon points="52.5,383.8 73.3,377.8 69.5,373.9 83.6,359.7 76.5,352.7 62.4,366.8 58.5,362.9" fill="#ff0000" stroke="#1a0000" stroke-width="0.75" stroke-linejoin="miter"/><polygon points="61.0,383.8 81.9,377.8 78.0,373.9 92.1,359.7 85.1,352.7 70.9,366.8 67.0,362.9" fill="#ff0000" stroke="#1a0000" stroke-width="0.75" stroke-linejoin="miter"/><polygon points="79.0,398.0 93.5,381.8 88.1,380.6 92.6,361.1 82.9,358.9 78.4,378.4 73.0,377.1" fill="#ff0000" stroke="#1a0000" stroke-width="0.75" stroke-linejoin="miter"/><polygon points="72.4,387.0 91.4,397.5 91.4,392.0 111.4,392.0 111.4,382.0 91.4,382.0 91.4,376.5" fill="#ff0000" stroke="#1a0000" stroke-width="0.75" stroke-linejoin="miter"/><polygon points="119.8,377.8 100.0,369.0 100.5,374.5 80.6,376.2 81.4,386.2 101.3,384.4 101.8,389.9" fill="#ff0000" stroke="#1a0000" stroke-width="0.75" stroke-linejoin="miter"/><polygon points="126.6,376.8 105.0,375.3 107.3,380.3 89.2,388.7 93.4,397.8 111.5,389.3 113.8,394.3" fill="#ff0000" stroke="#1a0000" stroke-width="0.75" stroke-linejoin="miter"/><polygon points="124.2,355.7 107.8,369.9 113.0,371.8 106.1,390.6 115.5,394.0 122.4,375.2 127.5,377.1" fill="#ff0000" stroke="#1a0000" stroke-width="0.75" stroke-linejoin="miter"/><polygon points="119.1,333.8 116.0,355.2 121.2,353.3 128.2,372.0 137.6,368.5 130.5,349.8 135.7,347.8" fill="#ff0000" stroke="#1a0000" stroke-width="0.75" stroke-linejoin="miter"/><polygon points="127.0,296.0 124.7,317.6 129.7,315.5 137.5,333.9 146.7,330.1 139.0,311.6 144.0,309.5" fill="#ff0000" stroke="#1a0000" stroke-width="0.75" stroke-linejoin="miter"/><polygon points="135.6,257.8 133.2,279.4 138.3,277.2 145.9,295.7 155.2,291.9 147.5,273.4 152.6,271.3" fill="#ffff00" stroke="#1a0000" stroke-width="0.75" stroke-linejoin="miter"/><polygon points="145.1,238.4 141.6,259.8 146.7,258.0 153.4,276.9 162.9,273.5 156.2,254.7 161.4,252.8" fill="#ffff00" stroke="#1a0000" stroke-width="0.75" stroke-linejoin="miter"/><polygon points="153.5,238.6 150.1,260.0 155.3,258.1 162.1,276.9 171.5,273.5 164.7,254.7 169.9,252.8" fill="#ffff00" stroke="#1a0000" stroke-width="0.75" stroke-linejoin="miter"/><polygon points="162.0,249.0 158.7,270.4 163.8,268.5 170.7,287.3 180.1,283.9 173.2,265.1 178.4,263.2" fill="#ffff00" stroke="#1a0000" stroke-width="0.75" stroke-linejoin="miter"/><polygon points="172.2,275.2 167.0,296.2 172.3,294.8 177.5,314.1 187.1,311.5 181.9,292.2 187.2,290.8" fill="#ffff00" stroke="#1a0000" stroke-width="0.75" stroke-linejoin="miter"/><polygon points="177.8,286.0 176.0,307.6 181.0,305.4 189.1,323.7 198.3,319.6 190.1,301.3 195.2,299.1" fill="#ff0000" stroke="#1a0000" stroke-width="0.75" stroke-linejoin="miter"/><polygon points="186.1,286.0 184.6,307.7 189.6,305.4 198.0,323.5 207.1,319.3 198.6,301.1 203.6,298.8" fill="#ff0000" stroke="#1a0000" stroke-width="0.75" stroke-linejoin="miter"/><polygon points="194.9,295.6 193.0,317.2 198.1,315.0 206.2,333.3 215.3,329.2 207.2,310.9 212.2,308.7" fill="#ff0000" stroke="#1a0000" stroke-width="0.75" stroke-linejoin="miter"/><polygon points="203.0,315.5 201.7,337.2 206.6,334.8 215.3,352.9 224.3,348.5 215.7,330.5 220.6,328.1" fill="#ff0000" stroke="#1a0000" stroke-width="0.75" stroke-linejoin="miter"/><polygon points="219.9,322.1 209.4,341.1 214.9,341.1 214.9,361.1 224.9,361.1 224.9,341.1 230.4,341.1" fill="#ff0000" stroke="#1a0000" stroke-width="0.75" stroke-linejoin="miter"/><polygon points="228.8,322.1 218.0,340.9 223.5,341.0 223.1,361.0 233.1,361.2 233.5,341.2 239.0,341.3" fill="#ff0000" stroke="#1a0000" stroke-width="0.75" stroke-linejoin="miter"/><polygon points="237.0,342.0 226.5,361.0 232.0,361.0 232.0,381.0 242.0,381.0 242.0,361.0 247.5,361.0" fill="#ff0000" stroke="#1a0000" stroke-width="0.75" stroke-linejoin="miter"/><polygon points="245.5,352.0 235.0,371.0 240.5,371.0 240.5,391.0 250.5,391.0 250.5,371.0 256.0,371.0" fill="#ff0000" stroke="#1a0000" stroke-width="0.75" stroke-linejoin="miter"/><polygon points="247.1,332.8 244.1,354.3 249.2,352.3 256.4,371.0 265.7,367.4 258.5,348.7 263.7,346.8" fill="#ff0000" stroke="#1a0000" stroke-width="0.75" stroke-linejoin="miter"/><polygon points="250.6,328.6 254.0,350.1 258.3,346.7 270.7,362.4 278.5,356.3 266.2,340.5 270.6,337.1" fill="#ff0000" stroke="#1a0000" stroke-width="0.75" stroke-linejoin="miter"/><polygon points="259.1,328.6 262.5,350.1 266.9,346.7 279.2,362.4 287.1,356.3 274.8,340.5 279.1,337.1" fill="#ff0000" stroke="#1a0000" stroke-width="0.75" stroke-linejoin="miter"/><polygon points="265.9,319.0 271.9,339.9 275.8,336.0 289.9,350.1 297.0,343.1 282.8,328.9 286.7,325.0" fill="#ff0000" stroke="#1a0000" stroke-width="0.75" stroke-linejoin="miter"/><polygon points="274.4,319.0 280.4,339.9 284.3,336.0 298.5,350.1 305.5,343.1 291.4,328.9 295.3,325.0" fill="#ff0000" stroke="#1a0000" stroke-width="0.75" stroke-linejoin="miter"/><polygon points="282.9,319.0 289.0,339.9 292.8,336.0 307.0,350.1 314.1,343.1 299.9,328.9 303.8,325.0" fill="#ff0000" stroke="#1a0000" stroke-width="0.75" stroke-linejoin="miter"/><polygon points="286.9,335.3 301.2,351.7 303.1,346.5 321.9,353.4 325.3,344.0 306.5,337.1 308.4,332.0" fill="#ff0000" stroke="#1a0000" stroke-width="0.75" stroke-linejoin="miter"/><polygon points="294.6,346.6 311.5,360.2 312.4,354.8 332.1,358.3 333.9,348.5 314.2,345.0 315.1,339.6" fill="#ff0000" stroke="#1a0000" stroke-width="0.75" stroke-linejoin="miter"/><polygon points="302.8,359.0 321.8,369.5 321.8,364.0 341.8,364.0 341.8,354.0 321.8,354.0 321.8,348.5" fill="#ff0000" stroke="#1a0000" stroke-width="0.75" stroke-linejoin="miter"/><polygon points="311.4,360.5 330.4,371.0 330.4,365.5 350.4,365.5 350.4,355.5 330.4,355.5 330.4,350.0" fill="#ff0000" stroke="#1a0000" stroke-width="0.75" stroke-linejoin="miter"/><polygon points="319.9,366.0 338.9,376.5 338.9,371.0 358.9,371.0 358.9,361.0 338.9,361.0 338.9,355.5" fill="#ff0000" stroke="#1a0000" stroke-width="0.75" stroke-linejoin="miter"/><polygon points="328.4,370.6 347.4,381.1 347.4,375.6 367.4,375.6 367.4,365.6 347.4,365.6 347.4,360.1" fill="#ff0000" stroke="#1a0000" stroke-width="0.75" stroke-linejoin="miter"/><polygon points="339.9,387.3 361.6,386.2 358.7,381.5 375.7,370.9 370.4,362.4 353.4,373.0 350.5,368.4" fill="#ff0000" stroke="#1a0000" stroke-width="0.75" stroke-linejoin="miter"/><polygon points="349.4,392.7 370.9,389.7 367.6,385.3 383.6,373.3 377.6,365.3 361.6,377.3 358.3,372.9" fill="#ff0000" stroke="#1a0000" stroke-width="0.75" stroke-linejoin="miter"/><polygon points="358.4,393.7 379.8,389.9 376.3,385.6 391.9,373.0 385.6,365.2 370.0,377.8 366.6,373.6" fill="#ff0000" stroke="#1a0000" stroke-width="0.75" stroke-linejoin="miter"/><polygon points="366.9,393.7 388.3,389.9 384.8,385.6 400.4,373.0 394.1,365.2 378.5,377.8 375.1,373.6" fill="#ff0000" stroke="#1a0000" stroke-width="0.75" stroke-linejoin="miter"/><polygon points="372.7,379.2 394.3,381.5 392.1,376.4 410.5,368.6 406.6,359.4 388.2,367.2 386.1,362.1" fill="#ff0000" stroke="#1a0000" stroke-width="0.75" stroke-linejoin="miter"/><polygon points="381.5,358.7 403.1,360.2 400.8,355.2 418.9,346.8 414.7,337.7 396.6,346.2 394.3,341.2" fill="#ff0000" stroke="#1a0000" stroke-width="0.75" stroke-linejoin="miter"/><polygon points="388.2,341.7 407.2,352.2 407.2,346.7 427.2,346.7 427.2,336.7 407.2,336.7 407.2,331.2" fill="#ff0000" stroke="#1a0000" stroke-width="0.75" stroke-linejoin="miter"/><polygon points="396.7,322.0 415.7,332.5 415.7,327.0 435.7,327.0 435.7,317.0 415.7,317.0 415.7,311.5" fill="#ff0000" stroke="#1a0000" stroke-width="0.75" stroke-linejoin="miter"/><polygon points="405.3,314.0 424.3,324.5 424.3,319.0 444.3,319.0 444.3,309.0 424.3,309.0 424.3,303.5" fill="#ff0000" stroke="#1a0000" stroke-width="0.75" stroke-linejoin="miter"/><polygon points="413.8,294.5 432.8,305.0 432.8,299.5 452.8,299.5 452.8,289.5 432.8,289.5 432.8,284.0" fill="#ffff00" stroke="#1a0000" stroke-width="0.75" stroke-linejoin="miter"/><polygon points="423.0,306.1 444.1,311.3 442.6,306.0 462.0,300.8 459.4,291.1 440.1,296.3 438.6,291.0" fill="#ff0000" stroke="#1a0000" stroke-width="0.75" stroke-linejoin="miter"/><polygon points="431.5,316.6 452.5,322.0 451.1,316.7 470.5,311.7 468.0,302.0 448.6,307.0 447.3,301.7" fill="#ff0000" stroke="#1a0000" stroke-width="0.75" stroke-linejoin="miter"/><polygon points="440.6,349.3 462.0,352.6 460.2,347.5 478.9,340.6 475.5,331.2 456.7,338.1 454.9,332.9" fill="#ff0000" stroke="#1a0000" stroke-width="0.75" stroke-linejoin="miter"/><polygon points="449.8,371.2 471.4,372.7 469.1,367.7 487.2,359.3 483.0,350.2 464.9,358.7 462.6,353.7" fill="#ff0000" stroke="#1a0000" stroke-width="0.75" stroke-linejoin="miter"/><polygon points="457.9,378.1 479.4,380.7 477.4,375.6 495.9,368.1 492.2,358.9 473.6,366.3 471.6,361.2" fill="#ff0000" stroke="#1a0000" stroke-width="0.75" stroke-linejoin="miter"/><polygon points="492.9,395.6 494.2,373.9 489.2,376.3 480.6,358.2 471.6,362.6 480.2,380.6 475.3,383.0" fill="#ff0000" stroke="#1a0000" stroke-width="0.75" stroke-linejoin="miter"/><polygon points="512.5,380.9 494.3,369.1 493.9,374.5 474.0,373.2 473.3,383.1 493.2,384.5 492.8,390.0" fill="#ff0000" stroke="#1a0000" stroke-width="0.75" stroke-linejoin="miter"/><polygon points="521.0,380.9 502.8,369.1 502.4,374.5 482.5,373.2 481.8,383.1 501.7,384.5 501.4,390.0" fill="#ff0000" stroke="#1a0000" stroke-width="0.75" stroke-linejoin="miter"/><polygon points="529.6,380.9 511.4,369.1 511.0,374.5 491.0,373.2 490.3,383.1 510.3,384.5 509.9,390.0" fill="#ff0000" stroke="#1a0000" stroke-width="0.75" stroke-linejoin="miter"/><polygon points="531.7,395.3 526.8,374.1 522.7,377.8 509.3,363.0 501.9,369.7 515.3,384.5 511.2,388.2" fill="#ff0000" stroke="#1a0000" stroke-width="0.75" stroke-linejoin="miter"/><polygon points="533.2,389.8 537.3,368.4 532.1,370.1 525.9,351.1 516.4,354.2 522.6,373.2 517.4,374.9" fill="#ff0000" stroke="#1a0000" stroke-width="0.75" stroke-linejoin="miter"/><polygon points="535.7,371.0 546.2,352.0 540.7,352.0 540.7,332.0 530.7,332.0 530.7,352.0 525.2,352.0" fill="#ff0000" stroke="#1a0000" stroke-width="0.75" stroke-linejoin="miter"/><polygon points="535.7,368.5 553.5,356.1 548.5,353.6 557.3,335.7 548.3,331.3 539.6,349.3 534.6,346.9" fill="#ff0000" stroke="#1a0000" stroke-width="0.75" stroke-linejoin="miter"/><polygon points="533.4,335.3 551.4,347.4 551.9,341.9 571.8,343.7 572.7,333.7 552.7,332.0 553.2,326.5" fill="#ff0000" stroke="#1a0000" stroke-width="0.75" stroke-linejoin="miter"/><polygon points="542.1,330.6 559.0,344.2 560.0,338.8 579.7,342.3 581.4,332.5 561.7,329.0 562.7,323.6" fill="#ff0000" stroke="#1a0000" stroke-width="0.75" stroke-linejoin="miter"/><polygon points="550.4,322.0 569.4,332.5 569.4,327.0 589.4,327.0 589.4,317.0 569.4,317.0 569.4,311.5" fill="#ff0000" stroke="#1a0000" stroke-width="0.75" stroke-linejoin="miter"/><polygon points="560.7,340.7 582.3,342.4 580.0,337.4 598.2,329.1 594.1,320.0 575.9,328.3 573.6,323.3" fill="#ff0000" stroke="#1a0000" stroke-width="0.75" stroke-linejoin="miter"/><polygon points="568.1,359.8 589.2,365.0 587.8,359.7 607.1,354.5 604.5,344.8 585.2,350.0 583.7,344.7" fill="#ff0000" stroke="#1a0000" stroke-width="0.75" stroke-linejoin="miter"/><polygon points="583.0,374.8 603.2,367.0 599.0,363.5 611.8,348.2 604.2,341.8 591.3,357.1 587.1,353.5" fill="#ff0000" stroke="#1a0000" stroke-width="0.75" stroke-linejoin="miter"/><polygon points="604.0,371.0 614.5,352.0 609.0,352.0 609.0,332.0 599.0,332.0 599.0,352.0 593.5,352.0" fill="#ff0000" stroke="#1a0000" stroke-width="0.75" stroke-linejoin="miter"/><polygon points="625.6,355.2 620.7,334.0 616.6,337.7 603.2,322.9 595.8,329.6 609.2,344.4 605.1,348.1" fill="#ff0000" stroke="#1a0000" stroke-width="0.75" stroke-linejoin="miter"/><polygon points="636.5,309.0 615.0,312.4 618.4,316.7 602.6,329.1 608.8,336.9 624.6,324.6 628.0,329.0" fill="#ff0000" stroke="#1a0000" stroke-width="0.75" stroke-linejoin="miter"/><polygon points="640.8,311.0 621.3,320.6 625.8,323.7 614.3,340.1 622.5,345.8 634.0,329.5 638.5,332.6" fill="#ff0000" stroke="#1a0000" stroke-width="0.75" stroke-linejoin="miter"/><polygon points="644.8,314.7 628.5,328.9 633.6,330.8 626.8,349.6 636.2,353.0 643.0,334.2 648.2,336.1" fill="#ff0000" stroke="#1a0000" stroke-width="0.75" stroke-linejoin="miter"/><polygon points="651.4,323.7 636.6,339.6 642.0,340.9 637.1,360.3 646.8,362.7 651.7,343.3 657.0,344.7" fill="#ff0000" stroke="#1a0000" stroke-width="0.75" stroke-linejoin="miter"/><polygon points="657.6,316.6 644.9,334.2 650.3,334.9 647.9,354.7 657.8,356.0 660.3,336.1 665.7,336.8" fill="#ff0000" stroke="#1a0000" stroke-width="0.75" stroke-linejoin="miter"/><polygon points="663.8,293.7 653.3,312.7 658.8,312.7 658.8,332.7 668.8,332.7 668.8,312.7 674.3,312.7" fill="#ff0000" stroke="#1a0000" stroke-width="0.75" stroke-linejoin="miter"/><polygon points="672.3,293.5 661.8,312.5 667.3,312.5 667.3,332.5 677.3,332.5 677.3,312.5 682.8,312.5" fill="#ff0000" stroke="#1a0000" stroke-width="0.75" stroke-linejoin="miter"/><polygon points="673.4,285.8 671.0,307.4 676.0,305.2 683.7,323.7 692.9,319.9 685.3,301.4 690.4,299.3" fill="#ff0000" stroke="#1a0000" stroke-width="0.75" stroke-linejoin="miter"/><polygon points="682.4,276.3 679.4,297.8 684.5,295.8 691.7,314.5 701.0,310.9 693.9,292.2 699.0,290.3" fill="#ffff00" stroke="#1a0000" stroke-width="0.75" stroke-linejoin="miter"/><polygon points="692.2,276.4 687.7,297.6 693.0,296.0 698.8,315.1 708.4,312.2 702.5,293.1 707.8,291.4" fill="#ffff00" stroke="#1a0000" stroke-width="0.75" stroke-linejoin="miter"/><polygon points="699.1,276.8 696.5,298.4 701.6,296.3 709.1,314.9 718.4,311.1 710.9,292.6 716.0,290.5" fill="#ffff00" stroke="#1a0000" stroke-width="0.75" stroke-linejoin="miter"/><polygon points="706.7,296.4 705.3,318.1 710.2,315.8 718.7,333.9 727.8,329.7 719.3,311.5 724.3,309.2" fill="#ff0000" stroke="#1a0000" stroke-width="0.75" stroke-linejoin="miter"/><polygon points="715.3,315.4 713.8,337.1 718.8,334.8 727.2,352.9 736.3,348.7 727.8,330.5 732.8,328.2" fill="#ff0000" stroke="#1a0000" stroke-width="0.75" stroke-linejoin="miter"/><polygon points="724.0,324.2 722.3,345.8 727.3,343.5 735.6,361.7 744.7,357.6 736.4,339.4 741.4,337.1" fill="#ff0000" stroke="#1a0000" stroke-width="0.75" stroke-linejoin="miter"/><polygon points="733.0,333.1 730.7,354.6 735.8,352.5 743.6,370.9 752.8,367.0 745.0,348.6 750.1,346.4" fill="#ff0000" stroke="#1a0000" stroke-width="0.75" stroke-linejoin="miter"/><polygon points="748.1,341.9 738.6,361.5 744.1,361.2 745.1,381.1 755.1,380.6 754.1,360.6 759.6,360.4" fill="#ff0000" stroke="#1a0000" stroke-width="0.75" stroke-linejoin="miter"/><polygon points="757.0,352.0 747.1,371.4 752.6,371.2 753.3,391.2 763.3,390.8 762.6,370.8 768.1,370.6" fill="#ff0000" stroke="#1a0000" stroke-width="0.75" stroke-linejoin="miter"/><polygon points="765.7,352.0 755.7,371.3 761.2,371.1 761.7,391.1 771.7,390.9 771.2,370.9 776.7,370.7" fill="#ff0000" stroke="#1a0000" stroke-width="0.75" stroke-linejoin="miter"/><polygon points="782.2,353.0 765.2,366.5 770.3,368.6 762.7,387.1 771.9,390.9 779.5,372.4 784.6,374.5" fill="#ff0000" stroke="#1a0000" stroke-width="0.75" stroke-linejoin="miter"/><polygon points="791.8,362.0 774.1,374.4 779.0,376.9 770.2,394.8 779.2,399.2 788.0,381.2 792.9,383.6" fill="#ff0000" stroke="#1a0000" stroke-width="0.75" stroke-linejoin="miter"/><polygon points="791.8,351.4 781.3,370.4 786.8,370.4 786.8,390.4 796.8,390.4 796.8,370.4 802.3,370.4" fill="#ff0000" stroke="#1a0000" stroke-width="0.75" stroke-linejoin="miter"/><polygon points="792.7,343.4 790.5,364.9 795.5,362.8 803.4,381.2 812.6,377.3 804.7,358.9 809.8,356.7" fill="#ff0000" stroke="#1a0000" stroke-width="0.75" stroke-linejoin="miter"/><polygon points="795.1,338.2 801.1,359.1 805.0,355.2 819.1,369.3 826.2,362.3 812.1,348.1 815.9,344.2" fill="#ff0000" stroke="#1a0000" stroke-width="0.75" stroke-linejoin="miter"/><polygon points="799.7,334.5 812.5,352.0 814.8,347.0 833.0,355.5 837.2,346.4 819.1,338.0 821.4,333.0" fill="#ff0000" stroke="#1a0000" stroke-width="0.75" stroke-linejoin="miter"/><polygon points="807.6,325.2 821.9,341.6 823.8,336.4 842.6,343.3 846.0,333.9 827.2,327.0 829.1,321.9" fill="#ff0000" stroke="#1a0000" stroke-width="0.75" stroke-linejoin="miter"/><polygon points="815.6,324.4 831.3,339.4 832.7,334.1 852.0,339.3 854.6,329.6 835.3,324.4 836.7,319.1" fill="#ff0000" stroke="#1a0000" stroke-width="0.75" stroke-linejoin="miter"/><polygon points="823.5,322.9 842.5,333.4 842.5,327.9 862.5,327.9 862.5,317.9 842.5,317.9 842.5,312.4" fill="#ff0000" stroke="#1a0000" stroke-width="0.75" stroke-linejoin="miter"/><polygon points="832.0,332.8 851.0,343.3 851.0,337.8 871.0,337.8 871.0,327.8 851.0,327.8 851.0,322.3" fill="#ff0000" stroke="#1a0000" stroke-width="0.75" stroke-linejoin="miter"/><polygon points="840.6,341.4 859.6,351.9 859.6,346.4 879.6,346.4 879.6,336.4 859.6,336.4 859.6,330.9" fill="#ff0000" stroke="#1a0000" stroke-width="0.75" stroke-linejoin="miter"/><polygon points="850.7,368.2 872.3,370.3 870.2,365.3 888.5,357.3 884.5,348.2 866.2,356.1 864.0,351.1" fill="#ff0000" stroke="#1a0000" stroke-width="0.75" stroke-linejoin="miter"/><polygon points="859.1,378.3 880.6,380.9 878.6,375.8 897.1,368.3 893.4,359.1 874.8,366.5 872.8,361.4" fill="#ff0000" stroke="#1a0000" stroke-width="0.75" stroke-linejoin="miter"/><polygon points="867.6,378.8 889.2,381.4 887.1,376.3 905.7,368.8 901.9,359.6 883.4,367.0 881.3,361.9" fill="#ff0000" stroke="#1a0000" stroke-width="0.75" stroke-linejoin="miter"/><polygon points="876.1,378.8 897.7,381.4 895.6,376.3 914.2,368.8 910.4,359.6 891.9,367.0 889.8,361.9" fill="#ff0000" stroke="#1a0000" stroke-width="0.75" stroke-linejoin="miter"/><polygon points="889.0,393.5 909.8,387.5 906.0,383.6 920.1,369.4 913.0,362.4 898.9,376.5 895.0,372.6" fill="#ff0000" stroke="#1a0000" stroke-width="0.75" stroke-linejoin="miter"/><polygon points="897.5,393.5 918.4,387.5 914.5,383.6 928.6,369.4 921.6,362.4 907.4,376.5 903.5,372.6" fill="#ff0000" stroke="#1a0000" stroke-width="0.75" stroke-linejoin="miter"/><polygon points="906.0,394.0 926.9,388.0 923.0,384.1 937.2,369.9 930.1,362.9 915.9,377.0 912.1,373.1" fill="#ff0000" stroke="#1a0000" stroke-width="0.75" stroke-linejoin="miter"/><polygon points="914.6,392.9 935.4,386.9 931.6,383.0 945.7,368.8 938.6,361.8 924.5,375.9 920.6,372.0" fill="#ff0000" stroke="#1a0000" stroke-width="0.75" stroke-linejoin="miter"/><polygon points="923.1,381.8 944.0,375.8 940.1,371.9 954.2,357.7 947.2,350.7 933.0,364.8 929.1,360.9" fill="#ff0000" stroke="#1a0000" stroke-width="0.75" stroke-linejoin="miter"/><polygon points="933.0,374.8 953.2,366.8 949.0,363.3 961.7,347.8 954.0,341.5 941.3,356.9 937.0,353.4" fill="#ff0000" stroke="#1a0000" stroke-width="0.75" stroke-linejoin="miter"/><polygon points="935.9,350.3 957.4,352.9 955.4,347.8 973.9,340.3 970.2,331.1 951.6,338.5 949.6,333.4" fill="#ff0000" stroke="#1a0000" stroke-width="0.75" stroke-linejoin="miter"/><polygon points="943.1,333.7 962.9,342.5 962.5,337.0 982.4,335.3 981.5,325.3 961.6,327.1 961.1,321.6" fill="#ff0000" stroke="#1a0000" stroke-width="0.75" stroke-linejoin="miter"/><polygon points="951.5,322.4 970.5,332.9 970.5,327.4 990.5,327.4 990.5,317.4 970.5,317.4 970.5,311.9" fill="#ff0000" stroke="#1a0000" stroke-width="0.75" stroke-linejoin="miter"/><polygon points="960.1,313.0 979.1,323.5 979.1,318.0 999.1,318.0 999.1,308.0 979.1,308.0 979.1,302.5" fill="#ff0000" stroke="#1a0000" stroke-width="0.75" stroke-linejoin="miter"/><polygon points="968.6,322.4 987.6,332.9 987.6,327.4 1007.6,327.4 1007.6,317.4 987.6,317.4 987.6,311.9" fill="#ff0000" stroke="#1a0000" stroke-width="0.75" stroke-linejoin="miter"/><polygon points="977.2,332.0 996.2,342.5 996.2,337.0 1016.2,337.0 1016.2,327.0 996.2,327.0 996.2,321.5" fill="#ff0000" stroke="#1a0000" stroke-width="0.75" stroke-linejoin="miter"/><polygon points="985.7,341.0 1004.7,351.5 1004.7,346.0 1024.7,346.0 1024.7,336.0 1004.7,336.0 1004.7,330.5" fill="#ff0000" stroke="#1a0000" stroke-width="0.75" stroke-linejoin="miter"/><polygon points="995.6,368.9 1017.2,371.5 1015.1,366.4 1033.7,358.9 1029.9,349.7 1011.4,357.1 1009.3,352.0" fill="#ff0000" stroke="#1a0000" stroke-width="0.75" stroke-linejoin="miter"/></g>
<text x="128.3" y="435" font-size="16.5" text-anchor="middle" fill="#000">Thursday</text>
<text x="106.5" y="458.7" font-size="18" textLength="45" lengthAdjust="spacingAndGlyphs" fill="#787878">22nd</text>
<text x="264.9" y="435" font-size="16.5" text-anchor="middle" fill="#000">Friday</text>
<text x="245.1" y="458.7" font-size="18" textLength="41" lengthAdjust="spacingAndGlyphs" fill="#787878">23rd</text>
<text x="401.4" y="435" font-size="16.5" text-anchor="middle" fill="#000" font-weight="bold">Saturday</text>
<text x="381.4" y="458.7" font-size="18" textLength="41.5" lengthAdjust="spacingAndGlyphs" fill="#787878">24th</text>
<text x="538.0" y="435" font-size="16.5" text-anchor="middle" fill="#000" font-weight="bold">Sunday</text>
<text x="518.0" y="458.7" font-size="18" textLength="41.5" lengthAdjust="spacingAndGlyphs" fill="#787878">25th</text>
<text x="674.6" y="435" font-size="16.5" text-anchor="middle" fill="#000">Monday</text>
<text x="654.5" y="458.7" font-size="18" textLength="41.5" lengthAdjust="spacingAndGlyphs" fill="#787878">26th</text>
<text x="811.1" y="435" font-size="16.5" text-anchor="middle" fill="#000">Tuesday</text>
<text x="791.1" y="458.7" font-size="18" textLength="41.5" lengthAdjust="spacingAndGlyphs" fill="#787878">27th</text>
<text x="947.7" y="435" font-size="16.5" text-anchor="middle" fill="#000">Wednesday</text>
<text x="927.7" y="458.7" font-size="18" textLength="41.5" lengthAdjust="spacingAndGlyphs" fill="#787878">28th</text>
<text x="952" y="401" font-size="10.5" text-anchor="middle" fill="#c0c0cc" letter-spacing="0.4">www.seabreeze.com.au</text>
</svg></body></html>
